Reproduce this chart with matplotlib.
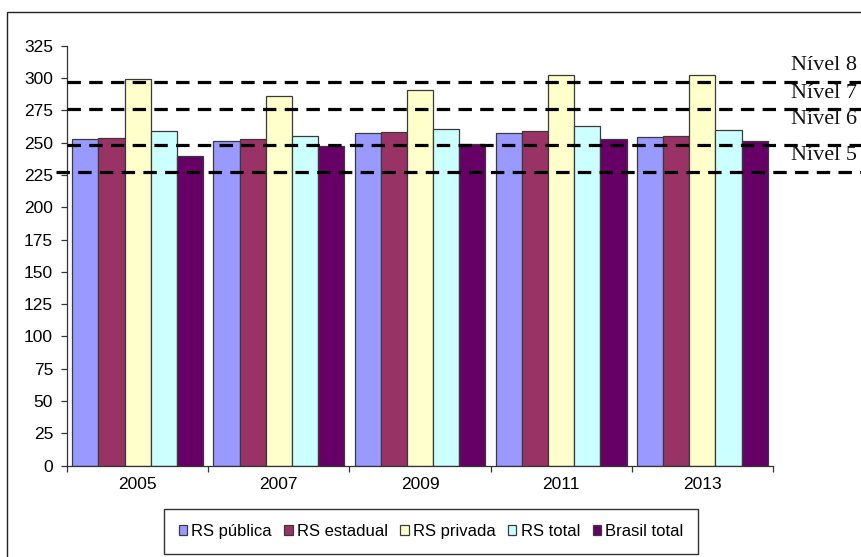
import numpy as np
import matplotlib
matplotlib.use("Agg")
import matplotlib.pyplot as plt
from matplotlib.patches import Rectangle

# SAEB matematica, medias por rede
anos = ["2005", "2007", "2009", "2011", "2013"]
rs_publica = [252.8, 251.4, 257.3, 257.7, 254.2]
rs_estadual = [253.6, 252.7, 258.5, 258.8, 254.9]
rs_privada = [299.3, 286.4, 290.5, 302.1, 302.1]
rs_total = [258.8, 254.8, 260.6, 262.7, 260.1]
brasil_total = [239.5, 247.4, 248.7, 252.6, 251.0]

series_labels = ["RS pública", "RS estadual", "RS privada", "RS total", "Brasil total"]
series_colors = ["#9999FF", "#993366", "#FFFFCC", "#CCFFFF", "#660066"]

# limites dos niveis da escala (linhas tracejadas)
niveis = [227.0, 248.5, 276.0, 297.0]
nivel_labels = ["Nível 5", "Nível 6", "Nível 7", "Nível 8"]

plt.rcParams["font.family"] = ["Liberation Sans", "DejaVu Sans"]

W, H = 862, 557
fig = plt.figure(figsize=(W / 100, H / 100), dpi=100)
ax = fig.add_axes([67 / W, 1 - 465.7 / H, (773 - 67) / W, (465.7 - 45.7) / H])

x = np.arange(len(anos))
width = 0.1854
data = [rs_publica, rs_estadual, rs_privada, rs_total, brasil_total]
for i, (vals, lab, col) in enumerate(zip(data, series_labels, series_colors)):
   ax.bar(x + (i - 2) * width, vals, width, color=col, edgecolor="#3a3a3a",
          linewidth=0.9, label=lab, zorder=2)

ax.set_xlim(-0.5, len(anos) - 0.5)
ax.set_ylim(0, 325)
ax.set_yticks(np.arange(0, 326, 25))

# ticks between groups, labels centred under each group
ax.set_xticks(np.arange(-0.5, len(anos), 1.0))
ax.set_xticklabels([])
ax.set_xticks(x, minor=True)
ax.set_xticklabels(anos, minor=True)
ax.tick_params(axis="x", which="minor", length=0, pad=8, labelsize=12.5)
ax.tick_params(axis="x", which="major", length=4, width=0.9, color="#333333")
ax.tick_params(axis="y", length=4, width=0.9, pad=6, labelsize=12.5, color="#333333")

for s in ["top", "right"]:
   ax.spines[s].set_visible(False)
for s in ["left", "bottom"]:
   ax.spines[s].set_color("#333333")
   ax.spines[s].set_linewidth(0.9)

# linhas dos niveis, passando da area do grafico ate a borda
right_ext = (W - 67) / (773 - 67)
for k, v in enumerate(niveis):
   xmin = -0.015 if k == 0 else 0.0
   ax.axhline(v, xmin=xmin, xmax=right_ext, color="black", linewidth=2.3,
              linestyle=(0, (4.2, 2.6)), clip_on=False, zorder=4)

nivel_y = [155, 120, 93, 65]
for lab, yp in zip(nivel_labels, nivel_y):
   fig.text(857 / W, 1 - yp / H, lab, ha="right", va="center", fontsize=16,
            family=["Liberation Serif", "DejaVu Serif"], color="#111111")

# moldura externa do grafico
fig.patches.append(Rectangle((7 / W, -0.05), 1.0, 1 - 12 / H + 0.05,
                             transform=fig.transFigure, fill=False,
                             edgecolor="#222222", linewidth=1.0))

leg = fig.legend(loc="center", bbox_to_anchor=(431 / W, 1 - 531.5 / H), ncol=5,
                 fontsize=12, frameon=True, fancybox=False, edgecolor="black",
                 handlelength=0.5, handleheight=0.5, handletextpad=0.25,
                 columnspacing=0.75, borderpad=0.9, borderaxespad=0.0)
leg.get_frame().set_linewidth(1.0)

fig.savefig("out.png", dpi=100, facecolor="white")
